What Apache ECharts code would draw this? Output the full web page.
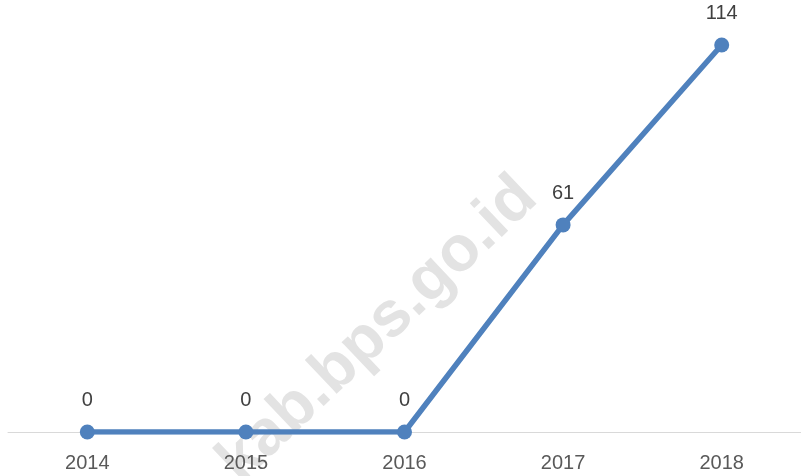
<!DOCTYPE html>
<html>
<head>
<meta charset="utf-8">
<script src="https://cdn.jsdelivr.net/npm/echarts@6/dist/echarts.min.js"></script>
<style>
  html, body { margin: 0; padding: 0; background: #fff; }
  #chart { width: 801px; height: 476px; }
</style>
</head>
<body>
<div id="chart"></div>
<script>
var years = ['2014', '2015', '2016', '2017', '2018'];
var values = [0, 0, 0, 61, 114];

var myChart = echarts.init(document.getElementById('chart'));
var option = {
  animation: false,
  graphic: [
    {
      // watermark
      type: 'text',
      x: 378,
      y: 330,
      rotation: 0.76,
      z: 0,
      style: {
        text: 'kab.bps.go.id',
        font: 'bold 64px "Liberation Sans", Arial, sans-serif',
        fill: '#e3e3e3',
        align: 'center',
        verticalAlign: 'middle'
      }
    }
  ],
  grid: {
    left: 8,
    right: 0,
    top: 45,
    bottom: 44
  },
  xAxis: {
    type: 'category',
    data: years,
    boundaryGap: true,
    axisLine: { lineStyle: { color: '#d9d9d9', width: 1 } },
    axisTick: { show: false },
    axisLabel: {
      color: '#595959',
      fontSize: 20,
      fontFamily: '"Liberation Sans", Arial, sans-serif',
      margin: 21
    }
  },
  yAxis: {
    type: 'value',
    min: 0,
    max: 114,
    show: false,
    splitLine: { show: false }
  },
  series: [
    {
      type: 'line',
      data: values,
      z: 5,
      symbol: 'circle',
      symbolSize: 15,
      lineStyle: { color: '#4f81bd', width: 5.5 },
      itemStyle: { color: '#4f81bd' },
      label: {
        show: true,
        position: 'top',
        distance: 14,
        color: '#404040',
        fontSize: 20,
        fontFamily: '"Liberation Sans", Arial, sans-serif'
      }
    }
  ]
};
myChart.setOption(option);
</script>
</body>
</html>
